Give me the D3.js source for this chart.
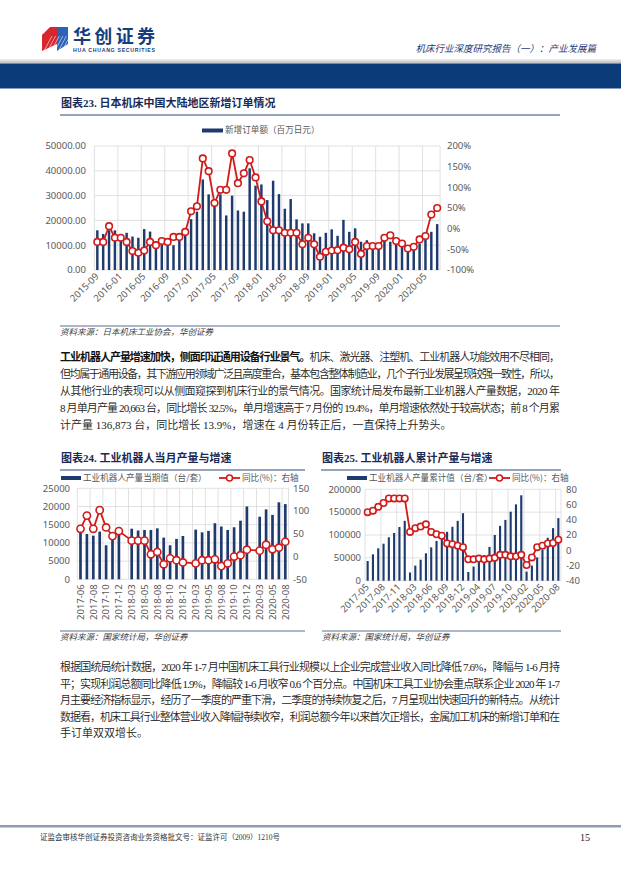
<!DOCTYPE html>
<html>
<head>
<meta charset="utf-8">
<script src="https://cdn.jsdelivr.net/npm/d3@7/dist/d3.min.js"></script>
<style>
  body { margin: 0; background: #fff; }
  svg { display: block; }
  .axis-label { font-family: "Noto Sans", "Noto Sans CJK SC", sans-serif; font-size: 9.5px; fill: #595959; }
  .legend { font-family: "Noto Sans CJK SC", sans-serif; font-size: 8.6px; fill: #595959; }
  .title { font-family: "Liberation Serif", "Noto Sans CJK SC", serif; font-size: 11px; font-weight: bold; fill: #1b2a55; }
  .source { font-family: "Liberation Serif", "Noto Sans CJK SC", serif; font-size: 8.5px; font-style: italic; fill: #404040; }
  .para { font-family: "Liberation Serif", "Noto Sans CJK SC", serif; font-size: 11px; fill: #222; }
</style>
</head>
<body>
<svg id="page" width="621" height="877"></svg>
<script>
// chart 23: 日本机床中国大陆地区新增订单
const orderMonths = [
  '2015-09','2015-10','2015-11','2015-12',
  '2016-01','2016-02','2016-03','2016-04','2016-05','2016-06','2016-07','2016-08','2016-09','2016-10','2016-11','2016-12',
  '2017-01','2017-02','2017-03','2017-04','2017-05','2017-06','2017-07','2017-08','2017-09','2017-10','2017-11','2017-12',
  '2018-01','2018-02','2018-03','2018-04','2018-05','2018-06','2018-07','2018-08','2018-09','2018-10','2018-11','2018-12',
  '2019-01','2019-02','2019-03','2019-04','2019-05','2019-06','2019-07','2019-08','2019-09','2019-10','2019-11','2019-12',
  '2020-01','2020-02','2020-03','2020-04','2020-05','2020-06','2020-07'
];
const orderValues = [
  16000,14500,16000,16000,14000,15000,13500,13000,16500,15500,
  11500,11500,12500,10000,12500,14000,20500,23500,36500,30500,
  28500,30500,22000,30000,24000,23500,41000,34000,34500,28200,
  36000,30600,24700,28600,20400,18800,18800,14800,13400,15000,
  16400,13800,20200,15400,16800,11400,12000,10700,10700,12000,
  11400,10700,9400,8700,9400,10700,13400,15400,18500
];
const orderYoy = [
  -32,-32,6,-22,-22,-32,-54,-58,-53,-32,
  -40,-30,-32,-20,-20,-8,42,54,170,139,
  62,94,94,182,110,134,166,124,66,18,
  -4,-4,-10,-10,-10,-38,-22,-38,-68,-56,
  -53,-52,-46,-50,-32,-61,-42,-42,-42,-22,
  -16,-30,-36,-48,-44,-26,-18,34,50
];
const orderLeftTicks = [0, 10000, 20000, 30000, 40000, 50000];
const orderRightTicks = [-100, -50, 0, 50, 100, 150, 200];

// chart 24: 工业机器人当月产量
const robotMonths = [
  '2017-06','2017-07','2017-08','2017-09','2017-10','2017-11','2017-12',
  '2018-02','2018-03','2018-04','2018-05','2018-07','2018-08','2018-09','2018-10','2018-11','2018-12',
  '2019-02','2019-03','2019-04','2019-05','2019-07','2019-08','2019-09','2019-10','2019-11','2019-12',
  '2020-02','2020-03','2020-04','2020-05','2020-07','2020-08'
];
const robotMonthly = [
  12800,12450,12000,13100,9350,11300,13100,
  null,13900,13400,13550,13550,14000,11450,9350,11100,11900,
  null,13650,12900,13300,15400,14500,13550,14300,16100,20000,
  null,17200,19200,17700,21150,20663
];
const robotMonthlyYoy = [
  61,90,61,102,64,45,56,
  null,35,35,35,5,10,-17,-4,-8,-13,
  null,-15,-8,-8,-6,-21,-15,0,3,15,
  null,13,26,16,19.4,32.5
];
const robotLeftTicks = [0, 5000, 10000, 15000, 20000, 25000];
const robotRightTicks = [-50, 0, 50, 100, 150];

// chart 25: 工业机器人累计产量
const cumMonths = [
  '2017-05','2017-06','2017-07','2017-08','2017-09','2017-10','2017-11','2017-12',
  '2018-02','2018-03','2018-04','2018-05','2018-06','2018-07','2018-08','2018-09','2018-10','2018-11','2018-12',
  '2019-02','2019-03','2019-04','2019-05','2019-06','2019-07','2019-08','2019-09','2019-10','2019-11','2019-12',
  '2020-02','2020-03','2020-04','2020-05','2020-06','2020-07','2020-08'
];
const cumValues = [
  43000,57700,70800,81000,95000,104400,117500,131000,
  18000,33000,46000,60000,73000,87000,98000,107000,118000,131000,147700,
  19000,31000,43000,56000,74000,100000,120000,133000,151000,167000,186900,
  20000,33000,51000,68000,94000,115000,136873
];
const cumYoy = [
  50,52,57,62,68,68,68,68,
  24,29,31,34,24,21,19,9,8,6,4,
  -12,-12,-11,-12,-11,-10,-6,-6,-8,-8,-6,
  -19.4,-9.5,4,6,9,9.5,13.9
];
const cumLeftTicks = [0, 50000, 100000, 150000, 200000];
const cumRightTicks = [-40, -20, 0, 20, 40, 60, 80];

const para1 = [
  [['工业机器人产量增速加快，侧面印证通用设备行业景气。', true], ['机床、激光器、注塑机、工业机器人功能效用不尽相同，', false]],
  [['但均属于通用设备，其下游应用领域广泛且高度重合，基本包含整体制造业，几个子行业发展呈现较强一致性，所以，', false]],
  [['从其他行业的表现可以从侧面窥探到机床行业的景气情况。国家统计局发布最新工业机器人产量数据，2020 年', false]],
  [['8 月单月产量 20,663 台，同比增长 32.5%，单月增速高于 7 月份的 19.4%，单月增速依然处于较高状态；前 8 个月累', false]],
  [['计产量 136,873 台，同比增长 13.9%，增速在 4 月份转正后，一直保持上升势头。', false]]
];
const para2 = [
  [['根据国统局统计数据，2020 年 1-7 月中国机床工具行业规模以上企业完成营业收入同比降低 7.6%，降幅与 1-6 月持', false]],
  [['平；实现利润总额同比降低 1.9%，降幅较 1-6 月收窄 0.6 个百分点。中国机床工具工业协会重点联系企业 2020 年 1-7', false]],
  [['月主要经济指标显示，经历了一季度的严重下滑，二季度的持续恢复之后，7 月呈现出快速回升的新特点。从统计', false]],
  [['数据看，机床工具行业整体营业收入降幅持续收窄，利润总额今年以来首次正增长，金属加工机床的新增订单和在', false]],
  [['手订单双双增长。', false]]
];

const BAR = '#1f3a6d';
const RED = '#d11a1a';
const GRID = '#d9d9d9';

const svg = d3.select('#page');

// ---------- header ----------
const logo = svg.append('g').attr('transform', 'translate(42,27)');
logo.append('path').attr('d', 'M8,0 L15,0 L15,17 L0,24 L0,8 Z').attr('fill', '#d7262e');
logo.append('path').attr('d', 'M15,0 L26,0 L26,17 L15,24 Z').attr('fill', '#2a63b8');
for (let i = 0; i < 7; i++) {
  logo.append('line')
    .attr('x1', 2 + i * 3.6).attr('y1', 24).attr('x2', 10 + i * 3.6).attr('y2', 9)
    .attr('stroke', '#fff').attr('stroke-width', 0.7).attr('opacity', 0.8);
}
svg.append('text').attr('x', 73).attr('y', 43)
  .style('font-family', '"Noto Sans CJK SC", sans-serif').style('font-size', '18px').style('font-weight', 'bold')
  .attr('fill', '#163d7d').attr('textLength', 82).text('华创证券');
svg.append('text').attr('x', 73).attr('y', 51.5)
  .style('font-family', '"Liberation Sans", sans-serif').style('font-size', '5.2px').style('font-weight', 'bold')
  .attr('fill', '#163d7d').attr('textLength', 82).text('HUA CHUANG SECURITIES');
svg.append('text').attr('x', 596).attr('y', 52).attr('text-anchor', 'end')
  .style('font-family', '"Noto Sans CJK SC", sans-serif').style('font-size', '9.5px').style('font-style', 'italic')
  .attr('fill', '#1f3c78').text('机床行业深度研究报告（一）：产业发展篇');

const hg = svg.append('defs').append('linearGradient').attr('id', 'hg').attr('x1', 0).attr('y1', 0).attr('x2', 0).attr('y2', 1);
hg.append('stop').attr('offset', '0%').attr('stop-color', '#f0f0f0');
hg.append('stop').attr('offset', '100%').attr('stop-color', '#b8b8b8');
svg.append('rect').attr('x', 0).attr('y', 59).attr('width', 621).attr('height', 4.5).attr('fill', 'url(#hg)');
svg.append('rect').attr('x', 0).attr('y', 63.5).attr('width', 621).attr('height', 25).attr('fill', '#0c3b7a');

// ---------- helpers ----------
const chartTitle = (x, y, x2, label) => {
  svg.append('text').attr('class', 'title').attr('x', x).attr('y', y).text(label);
  svg.append('line').attr('x1', x - 1).attr('x2', x2).attr('y1', y + 8).attr('y2', y + 8)
    .attr('stroke', '#2d4a7a').attr('stroke-width', 1);
};

const sourceLine = (x, y, x2, label) => {
  svg.append('line').attr('x1', x).attr('x2', x2).attr('y1', y - 9).attr('y2', y - 9)
    .attr('stroke', '#2d4a7a').attr('stroke-width', 0.8);
  svg.append('text').attr('class', 'source').attr('x', x).attr('y', y).text(label);
};

const combo = opts => {
  const g = svg.append('g');
  const x = d3.scaleBand().domain(opts.cats).range(opts.xRange);
  const yL = d3.scaleLinear().domain(d3.extent(opts.leftTicks)).range(opts.yRange);
  const yR = d3.scaleLinear().domain(d3.extent(opts.rightTicks)).range(opts.yRange);
  const [x0, x1] = opts.xRange;

  // grid
  g.selectAll('.hgrid').data(opts.leftTicks).enter().append('line')
    .attr('x1', x0).attr('x2', x1)
    .attr('y1', d => yL(d)).attr('y2', d => yL(d))
    .attr('stroke', GRID).attr('stroke-width', 0.8);
  const vlines = opts.cats.filter((c, i) => i % opts.every === 0).map(c => x(c)).concat([x1]);
  g.selectAll('.vgrid').data(vlines).enter().append('line')
    .attr('x1', d => d).attr('x2', d => d)
    .attr('y1', opts.yRange[0]).attr('y2', opts.yRange[1])
    .attr('stroke', GRID).attr('stroke-width', 0.8);

  // bars
  const bw = x.bandwidth() * opts.barFrac;
  g.selectAll('.bar').data(opts.cats.map((c, i) => ({ c, v: opts.bars[i] })).filter(d => d.v != null))
    .enter().append('rect')
      .attr('x', d => x(d.c) + (x.bandwidth() - bw) / 2)
      .attr('width', bw)
      .attr('y', d => yL(d.v))
      .attr('height', d => yL(0) - yL(d.v))
      .attr('fill', BAR);

  // line
  const pts = opts.cats.map((c, i) => ({ c, v: opts.line[i] })).filter(d => d.v != null);
  const line = d3.line().x(d => x(d.c) + x.bandwidth() / 2).y(d => yR(d.v));
  g.append('path').datum(pts).attr('d', line)
    .attr('fill', 'none').attr('stroke', RED).attr('stroke-width', 1.8);
  g.selectAll('.dot').data(pts).enter().append('circle')
    .attr('cx', d => x(d.c) + x.bandwidth() / 2)
    .attr('cy', d => yR(d.v))
    .attr('r', opts.r)
    .attr('fill', '#fff').attr('stroke', RED).attr('stroke-width', 1.6);

  // axes labels
  g.selectAll('.ltick').data(opts.leftTicks).enter().append('text')
    .attr('class', 'axis-label')
    .attr('x', opts.leftX).attr('y', d => yL(d) + 3.3)
    .attr('text-anchor', 'end')
    .text(opts.leftFmt);
  g.selectAll('.rtick').data(opts.rightTicks).enter().append('text')
    .attr('class', 'axis-label')
    .attr('x', opts.rightX).attr('y', d => yR(d) + 3.3)
    .text(opts.rightFmt);

  // category labels
  const labeled = opts.cats.filter((c, i) => i % opts.every === 0);
  g.selectAll('.xtick').data(labeled).enter().append('text')
    .attr('class', 'axis-label')
    .attr('text-anchor', 'end')
    .attr('transform', d => {
      const cx = x(d) + x.bandwidth() / 2 + opts.labelDx;
      return `translate(${cx},${opts.yRange[0] + opts.labelDy}) rotate(${opts.rotate})`;
    })
    .text(d => d);

  return g;
};

const barLegend = (x, y, w, label) => {
  svg.append('rect').attr('x', x).attr('y', y - 4.5).attr('width', w).attr('height', 4).attr('fill', BAR);
  svg.append('text').attr('class', 'legend').attr('x', x + w + 2).attr('y', y).text(label);
};

const lineLegend = (x, y, w, label) => {
  svg.append('line').attr('x1', x).attr('x2', x + w).attr('y1', y - 2.5).attr('y2', y - 2.5)
    .attr('stroke', RED).attr('stroke-width', 1.8);
  svg.append('circle').attr('cx', x + w / 2).attr('cy', y - 2.5).attr('r', 3)
    .attr('fill', '#fff').attr('stroke', RED).attr('stroke-width', 1.5);
  svg.append('text').attr('class', 'legend').attr('x', x + w + 2).attr('y', y).text(label);
};

// ---------- chart 23 ----------
chartTitle(61, 107, 560, '图表23.  日本机床中国大陆地区新增订单情况');
barLegend(202, 133, 21, '新增订单额（百万日元）');
combo({
  cats: orderMonths, bars: orderValues, line: orderYoy,
  leftTicks: orderLeftTicks, rightTicks: orderRightTicks,
  xRange: [94.4, 440.1], yRange: [270, 146],
  every: 4, barFrac: 0.42, r: 3.3,
  leftX: 86, rightX: 447,
  leftFmt: d3.format('.2f'), rightFmt: d => d + '%',
  rotate: -45, labelDx: 2, labelDy: 7
});
sourceLine(60, 335, 560, '资料来源：日本机床工业协会，华创证券');

// ---------- paragraphs ----------
const paragraph = (lines, x, y0, lh, width) => {
  lines.forEach((parts, i) => {
    const t = svg.append('text').attr('class', 'para').attr('x', x).attr('y', y0 + i * lh);
    if (i < lines.length - 1) t.attr('textLength', width).attr('lengthAdjust', 'spacing');
    parts.forEach(([s, bold]) => {
      t.append('tspan').style('font-weight', bold ? 'bold' : 350)
        .attr('fill', bold ? '#111' : '#222').text(s);
    });
  });
};
paragraph(para1, 60, 361, 17, 500);

// ---------- chart 24 ----------
chartTitle(61, 462, 305, '图表24.  工业机器人当月产量与增速');
barLegend(61, 480.5, 20, '工业机器人产量当期值（台/套）');
lineLegend(219, 480.5, 21, '同比(%)：右轴');
combo({
  cats: robotMonths, bars: robotMonthly, line: robotMonthlyYoy,
  leftTicks: robotLeftTicks, rightTicks: robotRightTicks,
  xRange: [77.3, 288.5], yRange: [579.3, 488.3],
  every: 2, barFrac: 0.42, r: 3.6,
  leftX: 70, rightX: 293,
  leftFmt: d => d, rightFmt: d => d,
  rotate: -90, labelDx: 3.3, labelDy: 5
});
sourceLine(60, 640, 305, '资料来源：国家统计局，华创证券');

// ---------- chart 25 ----------
chartTitle(322, 462, 561, '图表25.  工业机器人累计产量与增速');
barLegend(347, 480.5, 20, '工业机器人产量累计值（台/套）');
lineLegend(489, 480.5, 21, '同比(%)：右轴');
combo({
  cats: cumMonths, bars: cumValues, line: cumYoy,
  leftTicks: cumLeftTicks, rightTicks: cumRightTicks,
  xRange: [365, 561], yRange: [580.7, 489.3],
  every: 3, barFrac: 0.4, r: 3.2,
  leftX: 361, rightX: 566,
  leftFmt: d => d, rightFmt: d => d,
  rotate: -45, labelDx: 2, labelDy: 7
});
sourceLine(322, 640, 561, '资料来源：国家统计局，华创证券');

paragraph(para2, 60, 671, 16.6, 500);

// ---------- footer ----------
svg.append('line').attr('x1', 0).attr('x2', 621).attr('y1', 826).attr('y2', 826)
  .attr('stroke', '#1f3864').attr('stroke-width', 1);
svg.append('line').attr('x1', 0).attr('x2', 621).attr('y1', 827.5).attr('y2', 827.5)
  .attr('stroke', '#c9cfdc').attr('stroke-width', 1);
svg.append('text').attr('x', 40).attr('y', 840)
  .style('font-family', '"Liberation Serif", "Noto Sans CJK SC", serif').style('font-size', '7.5px')
  .attr('fill', '#333').text('证监会审核华创证券投资咨询业务资格批文号：证监许可（2009）1210号');
svg.append('text').attr('x', 590).attr('y', 841).attr('text-anchor', 'end')
  .style('font-family', '"Liberation Serif", serif').style('font-size', '10px')
  .attr('fill', '#222').text('15');
</script>
</body>
</html>
